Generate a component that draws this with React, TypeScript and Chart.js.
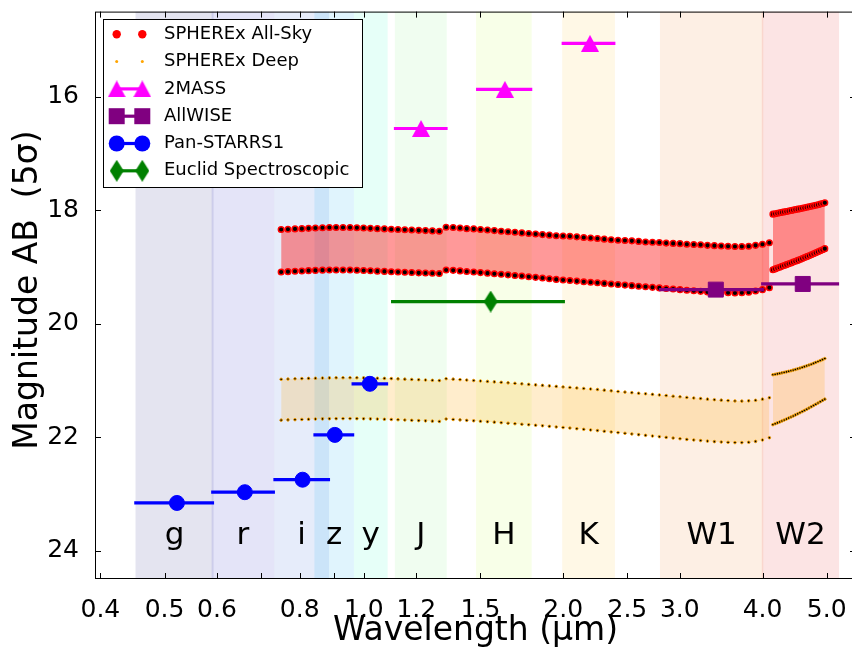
import React, { useEffect, useRef } from 'react';
import { Chart, registerables } from 'chart.js';

Chart.register(...registerables);

const FONT = "'DejaVu Sans', sans-serif";

// ---------- SPHEREx spectral grid (microns) ----------
const sphxWave = [
  0.750, 0.768, 0.787, 0.806, 0.825, 0.845, 0.866, 0.887, 0.908, 0.930, 0.953, 0.976,
  0.999, 1.023, 1.048, 1.074, 1.100, 1.126, 1.153, 1.181, 1.210, 1.239, 1.269, 1.300,
  1.331, 1.364, 1.397, 1.430, 1.465, 1.500, 1.537, 1.574, 1.612, 1.651, 1.691, 1.732,
  1.774, 1.817, 1.861, 1.906, 1.952, 1.999, 2.047, 2.097, 2.148, 2.200, 2.253, 2.307,
  2.363, 2.420, 2.479, 2.539, 2.600, 2.663, 2.728, 2.794, 2.861, 2.931, 3.002, 3.074,
  3.149, 3.225, 3.303, 3.383, 3.465, 3.548, 3.634, 3.722, 3.812, 3.904, 3.999, 4.096,
];
const allSkyBright = [
  18.34, 18.335, 18.33, 18.325, 18.32, 18.315, 18.31, 18.305, 18.305, 18.305, 18.305, 18.31,
  18.315, 18.32, 18.325, 18.33, 18.335, 18.34, 18.345, 18.35, 18.355, 18.36, 18.365, 18.37,
  18.30, 18.305, 18.315, 18.325, 18.33, 18.34, 18.35, 18.36, 18.37, 18.38, 18.39, 18.40,
  18.41, 18.42, 18.43, 18.44, 18.45, 18.455, 18.46, 18.47, 18.48, 18.49, 18.50, 18.51,
  18.52, 18.53, 18.535, 18.54, 18.55, 18.56, 18.565, 18.57, 18.58, 18.585, 18.59, 18.60,
  18.605, 18.61, 18.62, 18.625, 18.63, 18.635, 18.64, 18.64, 18.635, 18.62, 18.60, 18.575,
];
const allSkyFaint = [
  19.09, 19.083, 19.077, 19.071, 19.066, 19.061, 19.057, 19.054, 19.053, 19.053, 19.054, 19.058,
  19.063, 19.068, 19.074, 19.079, 19.084, 19.089, 19.094, 19.099, 19.104, 19.108, 19.112, 19.116,
  19.053, 19.06, 19.07, 19.08, 19.09, 19.10, 19.11, 19.12, 19.13, 19.14, 19.15, 19.16,
  19.172, 19.184, 19.196, 19.208, 19.22, 19.23, 19.24, 19.25, 19.26, 19.27, 19.28, 19.29,
  19.30, 19.31, 19.32, 19.33, 19.34, 19.35, 19.36, 19.37, 19.38, 19.39, 19.40, 19.41,
  19.42, 19.43, 19.44, 19.445, 19.45, 19.455, 19.46, 19.455, 19.445, 19.425, 19.40, 19.365,
];
const deepBright = [
  20.98, 20.976, 20.972, 20.968, 20.964, 20.961, 20.958, 20.956, 20.954, 20.953, 20.953, 20.954,
  20.956, 20.958, 20.961, 20.964, 20.968, 20.973, 20.978, 20.983, 20.988, 20.993, 20.998, 21.003,
  20.97, 20.978, 20.986, 20.994, 21.002, 21.01, 21.018, 21.026, 21.034, 21.043, 21.052, 21.061,
  21.07, 21.079, 21.088, 21.097, 21.106, 21.115, 21.124, 21.133, 21.142, 21.151, 21.16, 21.172,
  21.184, 21.196, 21.206, 21.216, 21.226, 21.236, 21.246, 21.256, 21.267, 21.278, 21.289, 21.30,
  21.31, 21.32, 21.33, 21.34, 21.348, 21.356, 21.362, 21.365, 21.36, 21.35, 21.33, 21.305,
];
const deepFaint = [
  21.70, 21.696, 21.692, 21.688, 21.684, 21.681, 21.678, 21.676, 21.674, 21.673, 21.673, 21.674,
  21.676, 21.678, 21.681, 21.684, 21.688, 21.693, 21.698, 21.703, 21.708, 21.713, 21.718, 21.723,
  21.68, 21.688, 21.696, 21.704, 21.712, 21.72, 21.728, 21.736, 21.745, 21.754, 21.763, 21.772,
  21.781, 21.79, 21.80, 21.81, 21.82, 21.83, 21.84, 21.851, 21.862, 21.873, 21.884, 21.896,
  21.908, 21.92, 21.932, 21.944, 21.956, 21.968, 21.98, 21.992, 22.004, 22.016, 22.028, 22.04,
  22.05, 22.06, 22.07, 22.079, 22.086, 22.092, 22.096, 22.096, 22.09, 22.075, 22.05, 22.01,
];

// ---------- SPHEREx high-resolution W2 segment ----------
const sphxW2Wave = [
  4.147, 4.180, 4.213, 4.246, 4.279, 4.313, 4.347, 4.381, 4.416, 4.450, 4.485, 4.521,
  4.556, 4.592, 4.628, 4.665, 4.701, 4.738, 4.776, 4.813, 4.851, 4.889, 4.928, 4.967,
];
const allSkyW2Bright = [
  18.07, 18.062, 18.054, 18.046, 18.038, 18.03, 18.022, 18.014, 18.006, 17.998, 17.99, 17.982,
  17.974, 17.966, 17.958, 17.949, 17.94, 17.931, 17.922, 17.913, 17.903, 17.893, 17.882, 17.87,
];
const allSkyW2Faint = [
  19.05, 19.035, 19.02, 19.005, 18.99, 18.975, 18.96, 18.945, 18.93, 18.915, 18.90, 18.885,
  18.87, 18.853, 18.836, 18.819, 18.802, 18.785, 18.768, 18.75, 18.732, 18.714, 18.696, 18.678,
];
const deepW2Bright = [
  20.90, 20.892, 20.884, 20.876, 20.867, 20.858, 20.849, 20.839, 20.829, 20.818, 20.807, 20.795,
  20.783, 20.77, 20.757, 20.743, 20.729, 20.714, 20.699, 20.683, 20.667, 20.65, 20.633, 20.615,
];
const deepW2Faint = [
  21.78, 21.764, 21.748, 21.732, 21.715, 21.698, 21.681, 21.663, 21.645, 21.627, 21.608, 21.589,
  21.569, 21.549, 21.529, 21.508, 21.487, 21.465, 21.443, 21.421, 21.398, 21.375, 21.352, 21.33,
];

// ---------- Filter bands ----------
const bandNames = ['g', 'r', 'i', 'z', 'y', 'J', 'H', 'K', 'W1', 'W2'];
const bandLo = [0.452, 0.589, 0.732, 0.842, 0.966, 1.114, 1.477, 1.993, 2.80, 3.99];
const bandHi = [0.593, 0.732, 0.886, 0.966, 1.086, 1.334, 1.792, 2.394, 4.01, 5.22];
const bandColors = [
  'rgba(75,75,155,0.15)', 'rgba(75,75,208,0.15)', 'rgba(88,128,222,0.15)', 'rgba(48,182,242,0.15)',
  'rgba(88,255,208,0.15)', 'rgba(155,242,155,0.15)', 'rgba(208,255,102,0.15)', 'rgba(255,208,88,0.15)',
  'rgba(242,148,75,0.15)', 'rgba(235,75,75,0.15)',
];
const bandLabelMag = 23.75;

// ---------- Photometric surveys ----------
const psWave = [0.522, 0.661, 0.808, 0.904, 1.021];
const psLo = [0.450, 0.588, 0.730, 0.839, 0.958];
const psHi = [0.594, 0.734, 0.889, 0.967, 1.088];
const psMag = [23.16, 22.97, 22.75, 21.96, 21.06];

const tmWave = [1.22, 1.633, 2.195];
const tmLo = [1.11, 1.477, 1.989];
const tmHi = [1.338, 1.796, 2.398];
const tmMag = [16.56, 15.87, 15.06];

const wiseWave = [3.40, 4.60];
const wiseLo = [2.79, 3.98];
const wiseHi = [4.02, 5.22];
const wiseMag = [19.40, 19.30];

const euWave = [1.554];
const euLo = [1.099];
const euHi = [2.012];
const euMag = [19.61];

// ---------- Axes ----------
const xTicks = [0.4, 0.5, 0.6, 0.7, 0.8, 0.9, 1.0, 1.2, 1.5, 2.0, 2.5, 3.0, 4.0, 5.0];
const xTickLabels = ['0.4', '0.5', '0.6', '', '0.8', '', '1.0', '1.2', '1.5', '2.0', '2.5', '3.0', '4.0', '5.0'];
const yTicks = [16, 18, 20, 22, 24];
const legendLabels = ['SPHEREx All-Sky', 'SPHEREx Deep', '2MASS', 'AllWISE', 'Pan-STARRS1', 'Euclid Spectroscopic'];

const MAGENTA = '#ff00ff';
const PURPLE = '#800080';
const BLUE = '#0000ff';
const GREEN = '#008000';

function pts(xs: number[], ys: number[]) {
  return xs.map((x, i) => ({ x, y: ys[i] }));
}

function makeCanvas(w: number, h: number, draw: (g: CanvasRenderingContext2D) => void) {
  const c = document.createElement('canvas');
  c.width = w;
  c.height = h;
  const g = c.getContext('2d')!;
  draw(g);
  return c;
}

export default function App() {
  const ref = useRef<HTMLCanvasElement>(null);

  useEffect(() => {
    document.body.style.margin = '0';
    const canvas = ref.current!;

    const tri = makeCanvas(18, 17, (g) => {
      g.fillStyle = MAGENTA;
      g.beginPath();
      g.moveTo(9, 0);
      g.lineTo(18, 17);
      g.lineTo(0, 17);
      g.closePath();
      g.fill();
    });
    const dia = makeCanvas(14, 22, (g) => {
      g.fillStyle = GREEN;
      g.beginPath();
      g.moveTo(7, 0);
      g.lineTo(14, 11);
      g.lineTo(7, 22);
      g.lineTo(0, 11);
      g.closePath();
      g.fill();
    });

    const errBars = (lo: number[], hi: number[], mag: number[], color: string) =>
      lo.map((l, i) => ({
        type: 'line' as const,
        data: [{ x: l, y: mag[i] }, { x: hi[i], y: mag[i] }],
        borderColor: color,
        borderWidth: 3.2,
        pointRadius: 0,
        fill: false,
        order: 2,
      }));

    const dotSet = (xs: number[], ys: number[], core: string, edge: string, r: number, bw: number, fillColor: string | null) => ({
      type: 'line' as const,
      data: pts(xs, ys),
      showLine: false,
      pointRadius: r,
      pointHoverRadius: r,
      pointBackgroundColor: core,
      pointBorderColor: edge,
      pointBorderWidth: bw,
      backgroundColor: fillColor || 'rgba(0,0,0,0)',
      fill: fillColor ? '-1' : false,
      order: 10,
    });

    const ALLSKY_FILL = 'rgba(255,0,0,0.4)';
    const DEEP_FILL = 'rgba(255,165,0,0.2)';

    const datasets: any[] = [
      // markers
      { type: 'line', data: pts(tmWave, tmMag), showLine: false, pointStyle: tri, pointRadius: 8, order: 1 },
      { type: 'line', data: pts(wiseWave, wiseMag), showLine: false, pointStyle: 'rect', pointRadius: 10.6, pointBackgroundColor: PURPLE, pointBorderColor: PURPLE, pointBorderWidth: 1, order: 1 },
      { type: 'line', data: pts(psWave, psMag), showLine: false, pointStyle: 'circle', pointRadius: 7.5, pointBackgroundColor: BLUE, pointBorderColor: BLUE, pointBorderWidth: 1, order: 1 },
      { type: 'line', data: pts(euWave, euMag), showLine: false, pointStyle: dia, pointRadius: 8, order: 1 },
      // horizontal bars (filter widths)
      ...errBars(tmLo, tmHi, tmMag, MAGENTA),
      ...errBars(wiseLo, wiseHi, wiseMag, PURPLE),
      ...errBars(psLo, psHi, psMag, BLUE),
      ...errBars(euLo, euHi, euMag, GREEN),
      // SPHEREx All-Sky
      dotSet(sphxWave, allSkyBright, '#000000', '#ff0000', 2.8, 1.5, null),
      dotSet(sphxWave, allSkyFaint, '#000000', '#ff0000', 2.8, 1.5, ALLSKY_FILL),
      dotSet(sphxW2Wave, allSkyW2Bright, '#000000', '#ff0000', 2.8, 1.5, null),
      dotSet(sphxW2Wave, allSkyW2Faint, '#000000', '#ff0000', 2.8, 1.5, ALLSKY_FILL),
      // SPHEREx Deep
      dotSet(sphxWave, deepBright, '#000000', '#ffa500', 1.3, 0.9, null),
      dotSet(sphxWave, deepFaint, '#000000', '#ffa500', 1.3, 0.9, DEEP_FILL),
      dotSet(sphxW2Wave, deepW2Bright, '#000000', '#ffa500', 1.3, 0.9, null),
      dotSet(sphxW2Wave, deepW2Faint, '#000000', '#ffa500', 1.3, 0.9, DEEP_FILL),
    ];

    const bandsPlugin = {
      id: 'bands',
      beforeDraw(chart: any) {
        const { ctx, chartArea, scales } = chart;
        const x = scales.x;
        ctx.save();
        bandNames.forEach((_, i) => {
          const x0 = x.getPixelForValue(bandLo[i]);
          const x1 = x.getPixelForValue(bandHi[i]);
          ctx.fillStyle = bandColors[i];
          ctx.fillRect(x0, chartArea.top, x1 - x0, chartArea.bottom - chartArea.top);
        });
        ctx.restore();
      },
      afterDatasetsDraw(chart: any) {
        const { ctx, scales } = chart;
        ctx.save();
        ctx.fillStyle = '#000';
        ctx.font = `31px ${FONT}`;
        ctx.textAlign = 'center';
        ctx.textBaseline = 'middle';
        const yp = scales.y.getPixelForValue(bandLabelMag);
        bandNames.forEach((name, i) => {
          const xc = scales.x.getPixelForValue(Math.sqrt(bandLo[i] * bandHi[i]));
          ctx.fillText(name, xc, yp);
        });
        ctx.restore();
      },
    };

    const framePlugin = {
      id: 'frame',
      afterDraw(chart: any) {
        const { ctx, chartArea, scales } = chart;
        const { left, right, top, bottom } = chartArea;
        ctx.save();
        ctx.strokeStyle = '#000';
        ctx.lineWidth = 1;
        ctx.beginPath();
        xTicks.forEach((v) => {
          const px = Math.round(scales.x.getPixelForValue(v)) + 0.5;
          ctx.moveTo(px, bottom);
          ctx.lineTo(px, bottom - 6);
          ctx.moveTo(px, top);
          ctx.lineTo(px, top + 6);
        });
        yTicks.forEach((v) => {
          const py = Math.round(scales.y.getPixelForValue(v)) + 0.5;
          ctx.moveTo(left, py);
          ctx.lineTo(left + 6, py);
          ctx.moveTo(right, py);
          ctx.lineTo(right - 6, py);
        });
        ctx.stroke();
        ctx.strokeRect(left + 0.5, top + 0.5, right - left - 1, bottom - top - 1);

        // legend
        const bx = 103.5, by = 19.5, bw = 259, bh = 168;
        ctx.fillStyle = '#ffffff';
        ctx.fillRect(bx, by, bw, bh);
        ctx.strokeRect(bx, by, bw, bh);
        const mx = [116.7, 142.3];
        const rowY = (i: number) => 34.3 + i * 27.3;
        const line = (y: number, color: string) => {
          ctx.strokeStyle = color;
          ctx.lineWidth = 3.2;
          ctx.beginPath();
          ctx.moveTo(mx[0], y);
          ctx.lineTo(mx[1], y);
          ctx.stroke();
        };
        const dot = (x: number, y: number, r: number, color: string) => {
          ctx.fillStyle = color;
          ctx.beginPath();
          ctx.arc(x, y, r, 0, Math.PI * 2);
          ctx.fill();
        };
        mx.forEach((x) => dot(x, rowY(0), 4.2, '#ff0000'));
        mx.forEach((x) => dot(x, rowY(1), 1.5, '#ffa500'));
        line(rowY(2), MAGENTA);
        mx.forEach((x) => ctx.drawImage(tri, x - tri.width / 2, rowY(2) - tri.height / 2));
        line(rowY(3), PURPLE);
        ctx.fillStyle = PURPLE;
        mx.forEach((x) => ctx.fillRect(x - 8, rowY(3) - 8, 16, 16));
        line(rowY(4), BLUE);
        mx.forEach((x) => dot(x, rowY(4), 8, BLUE));
        line(rowY(5), GREEN);
        mx.forEach((x) => ctx.drawImage(dia, x - dia.width / 2, rowY(5) - dia.height / 2));

        ctx.fillStyle = '#000';
        ctx.font = `18px ${FONT}`;
        ctx.textAlign = 'left';
        ctx.textBaseline = 'middle';
        legendLabels.forEach((t, i) => ctx.fillText(t, 164, rowY(i)));
        ctx.restore();
      },
    };

    const chart = new Chart(canvas, {
      type: 'line',
      data: { datasets },
      options: {
        animation: false,
        responsive: false,
        devicePixelRatio: 1,
        layout: { padding: { top: 10, right: 14, bottom: 0, left: 0 } },
        plugins: {
          legend: { display: false },
          tooltip: { enabled: false },
          filler: { drawTime: 'beforeDatasetsDraw' },
        },
        scales: {
          x: {
            type: 'logarithmic',
            min: 0.3926,
            max: 5.536,
            grid: { display: false },
            border: { display: false },
            afterBuildTicks: (s: any) => {
              s.ticks = xTicks.map((v) => ({ value: v }));
            },
            afterFit: (s: any) => {
              s.height = 73;
              s.paddingLeft = 0;
              s.paddingRight = 0;
            },
            ticks: {
              autoSkip: false,
              maxRotation: 0,
              minRotation: 0,
              padding: 8,
              color: '#000',
              font: { family: FONT, size: 25 },
              callback: (_v: any, i: number) => xTickLabels[i],
            },
            title: {
              display: true,
              text: 'Wavelength (μm)',
              color: '#000',
              font: { family: FONT, size: 33 },
              padding: { top: 0, bottom: 1 },
            },
          },
          y: {
            type: 'linear',
            reverse: true,
            min: 14.5,
            max: 24.5,
            grid: { display: false },
            border: { display: false },
            afterBuildTicks: (s: any) => {
              s.ticks = yTicks.map((v) => ({ value: v }));
            },
            afterFit: (s: any) => {
              s.width = 95;
              s.paddingTop = 0;
              s.paddingBottom = 0;
            },
            ticks: {
              padding: 8,
              color: '#000',
              font: { family: FONT, size: 25 },
              callback: (v: any) => String(v),
            },
            title: {
              display: true,
              text: ' Magnitude AB  (5σ)',
              color: '#000',
              font: { family: FONT, size: 33 },
              padding: { top: 9, bottom: 0 },
            },
          },
        },
      } as any,
      plugins: [bandsPlugin, framePlugin],
    });

    return () => chart.destroy();
  }, []);

  return (
    <div style={{ width: 852, height: 652, overflow: 'hidden', position: 'relative' }}>
      <canvas ref={ref} width={870} height={652} style={{ display: 'block' }} />
    </div>
  );
}
